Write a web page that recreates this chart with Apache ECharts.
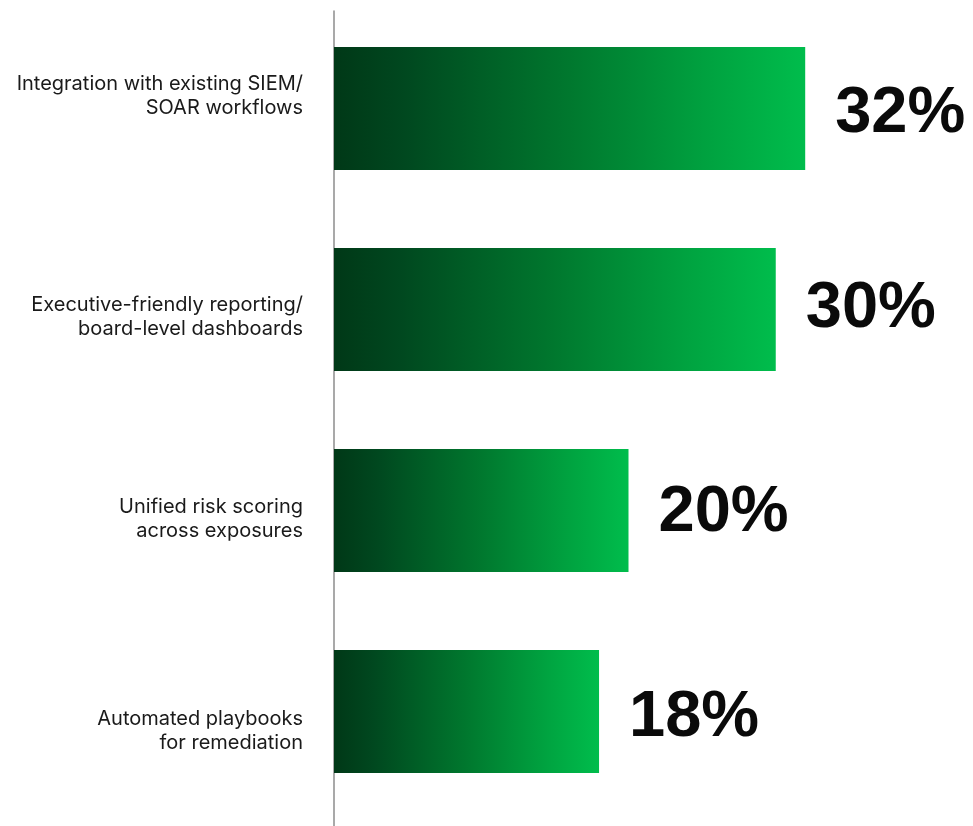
<!DOCTYPE html>
<html>
<head>
<meta charset="utf-8">
<style>
  html, body { margin: 0; padding: 0; background: #ffffff; }
  #chart { width: 973px; height: 826px; }
</style>
<script src="https://cdn.jsdelivr.net/npm/echarts@6/dist/echarts.min.js"></script>
</head>
<body>
<div id="chart"></div>
<script>
// Survey responses: share of respondents per capability
const categories = [
  'Integration with existing SIEM/\nSOAR workflows',
  'Executive-friendly reporting/\nboard-level dashboards',
  'Unified risk scoring\nacross exposures',
  'Automated playbooks\nfor remediation'
];
const shares = [32, 30, 20, 18];

// Vertical nudges (px, positive = down) for captions and value labels
const captionShift = [-12.5, 7.5, 8.5, 19.5];
const valueShift = [6, 0, 3, 7];

const chart = echarts.init(document.getElementById('chart'), null, { renderer: 'canvas' });

const barFill = new echarts.graphic.LinearGradient(0, 0, 1, 0, [
  { offset: 0, color: '#003817' },
  { offset: 0.15, color: '#00481f' },
  { offset: 0.5, color: '#00782e' },
  { offset: 0.8, color: '#00a340' },
  { offset: 1, color: '#00bd4c' }
]);

// Rich styles: one text style plus a spacer per caption that offsets the block
const captionRich = {
  t: { fontFamily: 'Inter', fontSize: 20, lineHeight: 24, color: '#1a1a1a', align: 'right' }
};
captionShift.forEach((d, i) => {
  captionRich['g' + i] = { fontSize: 1, lineHeight: Math.max(1, Math.abs(d) * 2) };
});

function captionFormatter(value, index) {
  const body = value.split('\n').map(l => '{t|' + l + '}').join('\n');
  const d = captionShift[index];
  if (d > 0) return '{g' + index + '| }\n' + body;
  if (d < 0) return body + '\n{g' + index + '| }';
  return body;
}

const barData = shares.map((v, i) => ({
  value: v,
  label: { offset: [0, valueShift[i]] }
}));

chart.setOption({
  animation: false,
  backgroundColor: '#ffffff',
  grid: [
    { left: 334, top: 8, width: 589, height: 804, containLabel: false },
    { left: 334, top: 11, width: 589, bottom: 0, containLabel: false }
  ],
  xAxis: [
    { type: 'value', gridIndex: 0, min: 0, max: 40, show: false },
    { type: 'value', gridIndex: 1, min: 0, max: 40, show: false }
  ],
  yAxis: [
    {
      type: 'category',
      gridIndex: 0,
      inverse: true,
      data: categories,
      axisLine: { show: false },
      axisTick: { show: false },
      axisLabel: {
        margin: 31,
        align: 'right',
        formatter: captionFormatter,
        rich: captionRich
      }
    },
    {
      type: 'value',
      gridIndex: 1,
      min: 0,
      max: 1,
      axisLine: { show: true, onZero: false, lineStyle: { color: '#8c8c8c', width: 1.5 } },
      axisTick: { show: false },
      axisLabel: { show: false },
      splitLine: { show: false }
    }
  ],
  series: [
    {
      type: 'bar',
      xAxisIndex: 0,
      yAxisIndex: 0,
      data: barData,
      barWidth: 123,
      itemStyle: { color: barFill },
      label: {
        show: true,
        position: 'right',
        distance: 30,
        formatter: '{c}%',
        color: '#0a0a0a',
        fontFamily: 'Liberation Sans',
        fontWeight: 'bold',
        fontSize: 65
      }
    }
  ]
});
</script>
</body>
</html>
